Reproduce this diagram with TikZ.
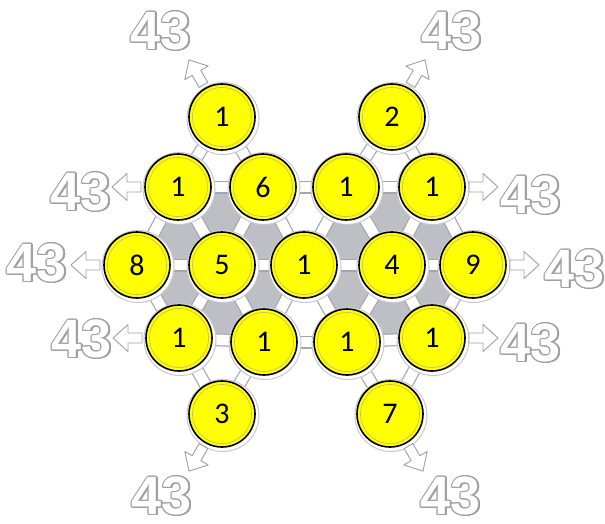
\documentclass[tikz,border=0pt]{standalone}
\usepackage{fontspec}
\setmainfont{Carlito}
\newfontfamily\lblfont{Liberation Sans}
\usetikzlibrary{calc}
\pgfdeclarelayer{back}
\pgfdeclarelayer{bg}
\pgfsetlayers{back,bg,main}
\definecolor{tilegray}{RGB}{190,190,197}
\definecolor{edgegray}{RGB}{165,165,172}
\definecolor{ringgray}{RGB}{200,200,206}
\definecolor{ballyellow}{RGB}{255,255,0}
\definecolor{innerring}{RGB}{200,192,96}
\definecolor{outlinegray}{RGB}{160,160,160}
\tikzset{
  ball/.style={circle, draw=black, line width=1.6pt, fill=ballyellow,
    minimum size=66pt, inner sep=0pt, font=\fontsize{30}{30}\selectfont},
  halo/.style={fill=white, draw=ringgray, line width=1pt},
  barout/.style={draw=edgegray, line width=13pt},
  barin/.style={draw=white, line width=10.6pt},
  tile/.style={fill=tilegray},
  hollowarrow/.style={fill=white, draw=outlinegray, line width=0.9pt, line join=round},
  biglbl/.style={inner sep=0pt, font=\lblfont\bfseries\fontsize{54}{54}\selectfont},
}
\newcommand\outlinedlbl[2]{%
  \foreach \ang in {0,22.5,...,337.5}
    \node[biglbl, text=outlinegray, shift={(\ang:1.3)}] at (#2) {43};
  \node[biglbl, text=white] (#1) at (#2) {43};
}
\newcommand\blockarrow[2]{%
  \draw[hollowarrow, shift={(#1.center)}, rotate=#2]
    (37,-5) -- (51,-5) -- (51,-13.5) -- (66,0) -- (51,13.5) -- (51,5) -- (37,5) -- cycle;
}
\begin{document}
\begin{tikzpicture}[x=1pt,y=-1pt]
\begin{pgfonlayer}{back}
\fill[white] (0,0) rectangle (605,523);
\end{pgfonlayer}
\useasboundingbox (0,0) rectangle (605,523);
% balls
\node[ball] (t1) at (222,117) {1};
\node[ball] (t2) at (392,117) {2};
\node[ball] (a) at (178,187) {1};
\node[ball] (b) at (263,187) {6};
\node[ball] (c) at (346,187) {1};
\node[ball] (d) at (432,187) {1};
\node[ball] (e) at (137,265) {8};
\node[ball] (f) at (222,265) {5};
\node[ball] (g) at (304,265) {1};
\node[ball] (h) at (392,265) {4};
\node[ball] (i) at (473,265) {9};
\node[ball] (j) at (179,338) {1};
\node[ball] (k) at (264,342) {1};
\node[ball] (l) at (347,342) {1};
\node[ball] (m) at (432,338) {1};
\node[ball] (n) at (222,414) {3};
\node[ball] (o) at (390,414) {7};
\foreach \p in {t1,t2,a,b,c,d,e,f,g,h,i,j,k,l,m,n,o}
  \draw[innerring, line width=0.7pt] (\p.center) circle (29.5);
\begin{pgfonlayer}{bg}
  % gray tiles
  \foreach \p/\q/\r in {a/b/f, e/f/j, f/g/k, a/e/f, b/f/g, f/j/k,
                        c/d/h, g/h/l, h/i/m, c/g/h, d/h/i, h/l/m}
    \fill[tile] (\p.center) -- (\q.center) -- (\r.center) -- cycle;
  % bars
  \def\barlist{t1/a, t1/b, a/b, b/c, c/d, t2/c, t2/d,
    a/e, a/f, b/f, b/g, c/g, c/h, d/h, d/i,
    e/f, f/g, g/h, h/i,
    e/j, f/j, f/k, g/k, g/l, h/l, h/m, i/m,
    j/k, k/l, l/m, j/n, k/n, l/o, m/o}
  \foreach \p/\q in \barlist \draw[barout] (\p.center) -- (\q.center);
  \foreach \p/\q in \barlist \draw[barin] (\p.center) -- (\q.center);
  % halos
  \foreach \p in {t1,t2,a,b,c,d,e,f,g,h,i,j,k,l,m,n,o}
    \draw[halo] ($(\p.center)+(1,1.5)$) circle (36);
  % arrows
  \blockarrow{t1}{120}
  \blockarrow{t2}{60}
  \blockarrow{a}{180}
  \blockarrow{d}{0}
  \blockarrow{e}{180}
  \blockarrow{i}{0}
  \blockarrow{j}{180}
  \blockarrow{m}{0}
  \blockarrow{n}{240}
  \blockarrow{o}{300}
\end{pgfonlayer}
% outlined labels
\outlinedlbl{L1}{161,31}
\outlinedlbl{L2}{452,31}
\outlinedlbl{L3}{81,192}
\outlinedlbl{L4}{531,195}
\outlinedlbl{L5}{37,263}
\outlinedlbl{L6}{575,269}
\outlinedlbl{L7}{82,339}
\outlinedlbl{L8}{531,343}
\outlinedlbl{L9}{162,496}
\outlinedlbl{L10}{451,496}
\end{tikzpicture}
\end{document}
